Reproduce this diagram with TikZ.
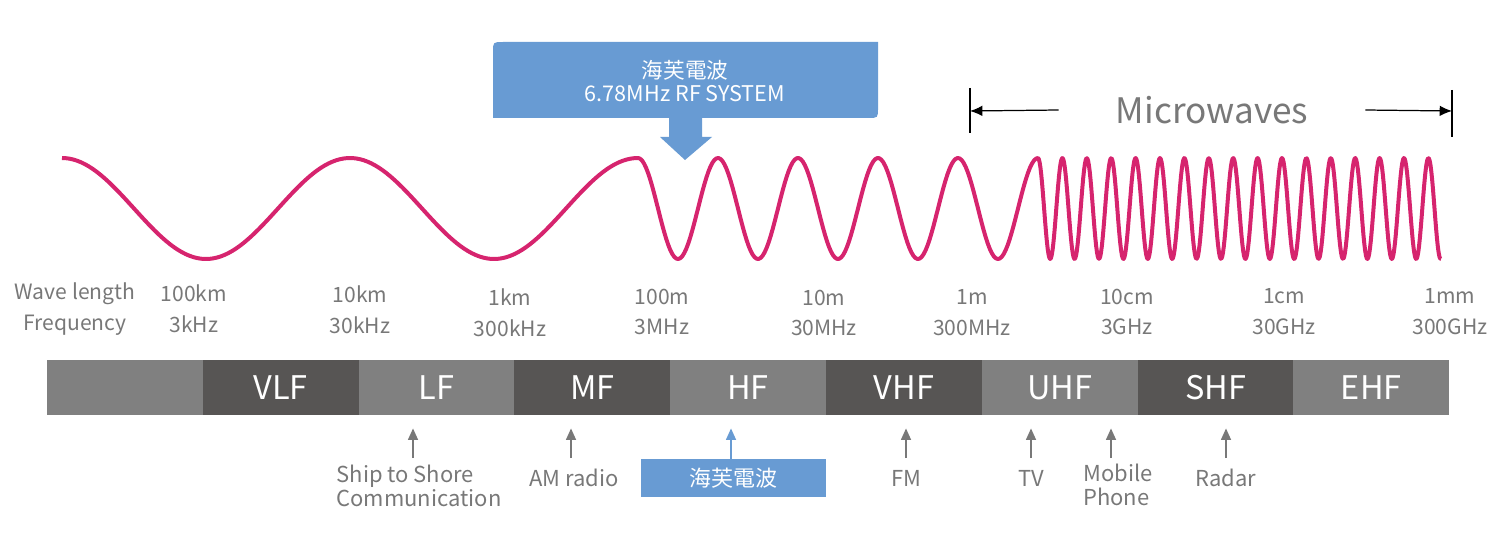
\documentclass[tikz,border=0pt]{standalone}
\usepackage{fontspec}
\setmainfont{Noto Sans CJK TC}
\usetikzlibrary{arrows.meta, positioning}
\definecolor{wavepink}{RGB}{214,36,110}
\definecolor{rfblue}{RGB}{104,155,211}
\definecolor{bandlight}{RGB}{128,128,128}
\definecolor{banddark}{RGB}{87,85,84}
\definecolor{txtgray}{RGB}{120,120,120}

\begin{document}
\begin{tikzpicture}[
      x = 0.02cm, y = -0.02cm,
      wave/.style = {draw=wavepink, line width=0.08cm, line join=round},
      band/.style = {inner sep=0pt, minimum width=3.116cm, minimum height=1.1cm,
                     text=white, font=\fontsize{18.5}{20}\selectfont},
      freq/.style = {align=center, text=txtgray, inner sep=0pt,
                     font=\fontsize{12}{17.6}\selectfont},
      use/.style  = {align=center, text=txtgray, inner sep=0pt,
                     font=\fontsize{12.5}{13.6}\selectfont},
      app/.style  = {draw=txtgray, line width=1.1pt, -{Triangle[length=6.5pt, width=5.5pt]},
                     shorten >=0.26cm},
      dim/.style  = {draw=black, line width=0.7pt, -{Latex[length=7pt, width=6pt]}}
  ]
  \useasboundingbox (0,0) rectangle (1491,544);

  % callout: rounded top-left and bottom-right corner, arrow down to the wave
  \fill[rfblue] (669,118) -- (493,118) -- (493,52) .. controls (493,42) .. (503,42)
        -- (878,42) -- (878,108) .. controls (878,118) .. (868,118)
        -- (702,118) -- (702,137) -- (712,137) -- (685,160) -- (660,137) -- (669,137) -- cycle;
  \node[align=center, text=white, inner sep=0pt, font=\fontsize{12.3}{13}\selectfont]
        (rf) at (685,81) {海芙電波\\6.78MHz RF SYSTEM};

  % microwaves range
  \node[text=txtgray, inner sep=0pt, font=\fontsize{20}{24}\selectfont] (mw) at (1212,110) {Microwaves};
  \coordinate (mwL) at (970,111);
  \coordinate (mwR) at (1452,111);
  \draw[line width=1.3pt] (970,88) -- (970,133);
  \draw[line width=1.3pt] (1452,90) -- (1452,137);
  \draw[dim] (mw.west) ++(-57,0) -- (mwL);
  \draw[dim] (mw.east) ++(57,0) -- (mwR);

  % the wave, three speeds
  \draw[wave] plot[domain=62:638, samples=150] (\x,{208.5-50.5*cos((\x-62)/288*360)})
        -- plot[domain=638:1038, samples=200] (\x,{208.5-50.5*cos((\x-638)/80*360)})
        -- plot[domain=1038:1441, samples=500] (\x,{208.5-50.5*cos((\x-1038)/24.4*360)});

  % wave length / frequency
  \node[freq] (lgd)   at (75,309)   {Wave length\\Frequency};
  \node[freq] (f3k)   at (194,309)  {100km\\3kHz};
  \node[freq] (f30k)  at (360,310)  {10km\\30kHz};
  \node[freq] (f300k) at (510,313)  {1km\\300kHz};
  \node[freq] (f3M)   at (662,312)  {100m\\3MHz};
  \node[freq] (f30M)  at (824,313)  {10m\\30MHz};
  \node[freq] (f300M) at (972,313)  {1m\\300MHz};
  \node[freq] (f3G)   at (1127,312) {10cm\\3GHz};
  \node[freq] (f30G)  at (1284,312) {1cm\\30GHz};
  \node[freq] (f300G) at (1450,312) {1mm\\300GHz};

  % band bar
  \foreach \name/\lab/\col [count=\i from 0] in
      {blank//bandlight, vlf/VLF/banddark, lf/LF/bandlight, mf/MF/banddark, hf/HF/bandlight,
       vhf/VHF/banddark, uhf/UHF/bandlight, shf/SHF/banddark, ehf/EHF/bandlight}
    \node[band, fill=\col] (\name) at ({47+155.8*(\i+0.5)},387.5) {\lab};

  % uses
  \coordinate (foot) at (0,458);
  \node[use, align=left] (ship)   at (419,486) {Ship to Shore\\Communication};
  \node[use]             (am)     at (574,478) {AM radio};
  \node[fill=rfblue, text=white, minimum width=3.7cm, minimum height=0.76cm,
        inner sep=0pt, font=\fontsize{12.5}{14}\selectfont] (hfbox) at (733.5,478) {海芙電波};
  \node[use]             (fm)     at (906,478)  {FM};
  \node[use]             (tv)     at (1031,478) {TV};
  \node[use, align=left] (mobile) at (1118,485) {Mobile\\Phone};
  \node[use]             (radar)  at (1226,478) {Radar};

  \draw[app] ([xshift=-0.12cm]ship.north |- foot) -- ([xshift=-0.12cm]ship.north |- lf.south);
  \draw[app] ([xshift=-0.06cm]am.north |- foot) -- ([xshift=-0.06cm]am.north |- mf.south);
  \draw[app, draw=rfblue] ([xshift=-0.05cm]hfbox.north) -- ([xshift=-0.05cm]hfbox.north |- hf.south);
  \draw[app] (fm.north |- foot) -- (fm.north |- vhf.south);
  \draw[app] (tv.north |- foot) -- (tv.north |- uhf.south);
  \draw[app] ([xshift=-0.14cm]mobile.north |- foot) -- ([xshift=-0.14cm]mobile.north |- uhf.south);
  \draw[app] (radar.north |- foot) -- (radar.north |- shf.south);
\end{tikzpicture}
\end{document}
